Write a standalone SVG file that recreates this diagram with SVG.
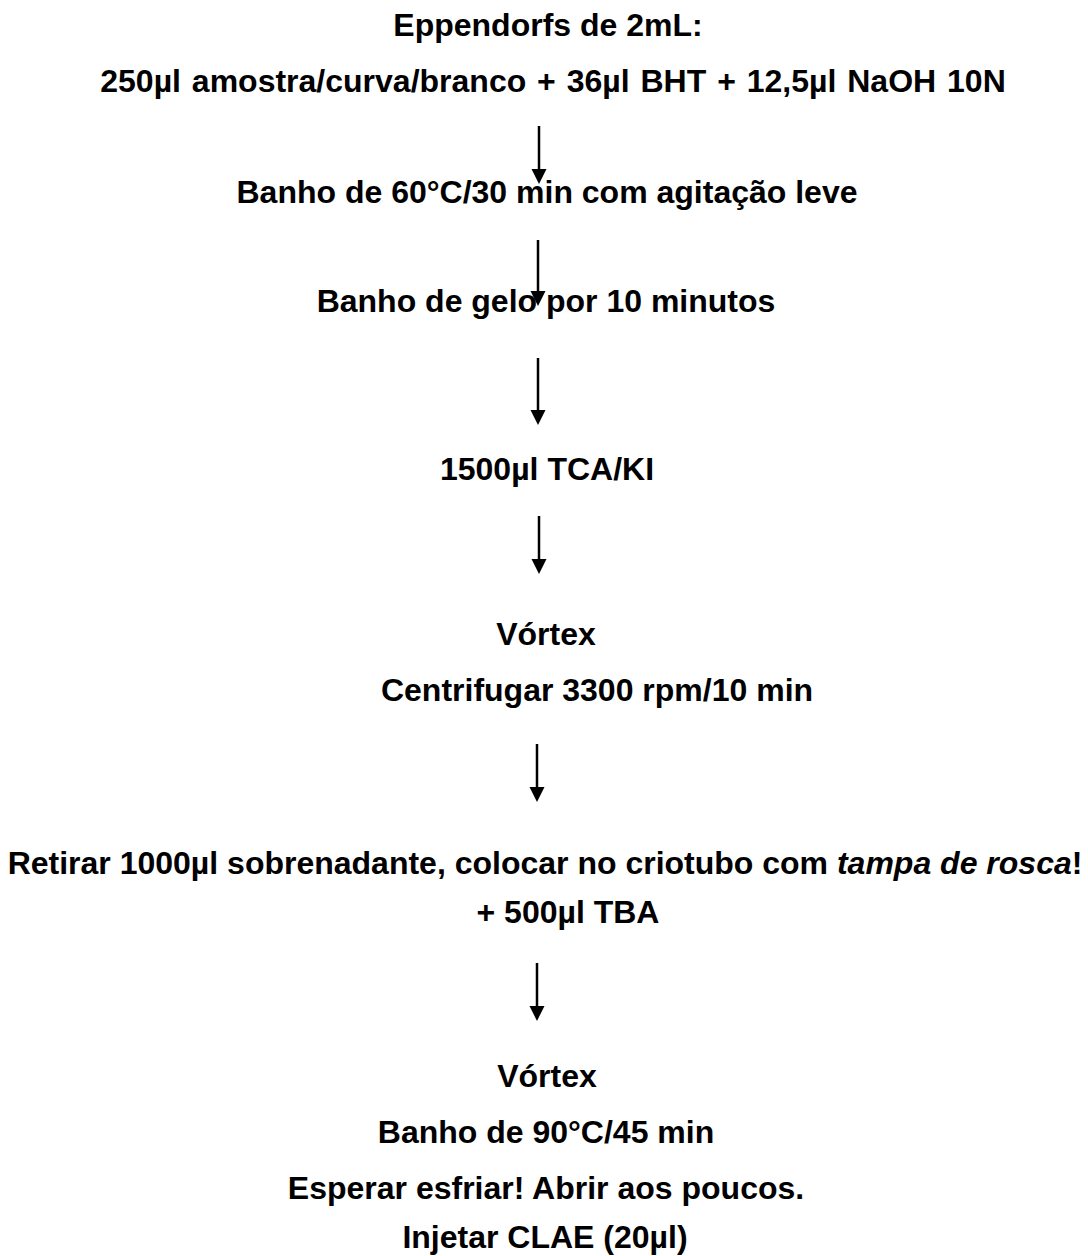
<svg xmlns="http://www.w3.org/2000/svg" width="1088" height="1256" viewBox="0 0 1088 1256">
<defs>
<style>
.t{font-family:"Liberation Sans",Arial,sans-serif;font-weight:bold;font-size:32px;fill:#000;text-anchor:middle}
.c{stroke:#000;stroke-width:2.5;fill:none}
.h{fill:#000;stroke:none}
</style>
</defs>
<rect width="1088" height="1256" fill="#fff"/>
<g id="n1"><text class="t" x="548" y="36">Eppendorfs de 2mL:</text>
<text class="t" x="553" y="92" word-spacing="2">250µl amostra/curva/branco + 36µl BHT + 12,5µl NaOH 10N</text></g>
<g id="n2"><text class="t" x="547" y="203">Banho de 60°C/30 min com agitação leve</text></g>
<g id="n3"><text class="t" x="546" y="312">Banho de gelo por 10 minutos</text></g>
<g id="n4"><text class="t" x="547" y="480">1500µl TCA/KI</text></g>
<g id="n5"><text class="t" x="546" y="645">Vórtex</text>
<text class="t" x="597" y="701">Centrifugar 3300 rpm/10 min</text></g>
<g id="n6"><text class="t" x="545" y="874">Retirar 1000µl sobrenadante, colocar no criotubo com <tspan font-style="italic">tampa de rosca</tspan>!</text>
<text class="t" x="568" y="923">+ 500µl TBA</text></g>
<g id="n7"><text class="t" x="547" y="1087">Vórtex</text>
<text class="t" x="546" y="1143">Banho de 90°C/45 min</text>
<text class="t" x="546" y="1199">Esperar esfriar! Abrir aos poucos.</text>
<text class="t" x="545" y="1248">Injetar CLAE (20µl)</text></g>
<g id="connectors">
<line class="c" x1="539" y1="126" x2="539" y2="172"/><path class="h" d="M531.5,169 L546.5,169 L539,184 Z"/>
<line class="c" x1="538" y1="240" x2="538" y2="294"/><path class="h" d="M530.5,291 L545.5,291 L538,306 Z"/>
<line class="c" x1="538" y1="358" x2="538" y2="413"/><path class="h" d="M530.5,410 L545.5,410 L538,425 Z"/>
<line class="c" x1="539" y1="516" x2="539" y2="562"/><path class="h" d="M531.5,559 L546.5,559 L539,574 Z"/>
<line class="c" x1="537" y1="744" x2="537" y2="790"/><path class="h" d="M529.5,787 L544.5,787 L537,802 Z"/>
<line class="c" x1="537" y1="963" x2="537" y2="1009"/><path class="h" d="M529.5,1006 L544.5,1006 L537,1021 Z"/>
</g>
</svg>
